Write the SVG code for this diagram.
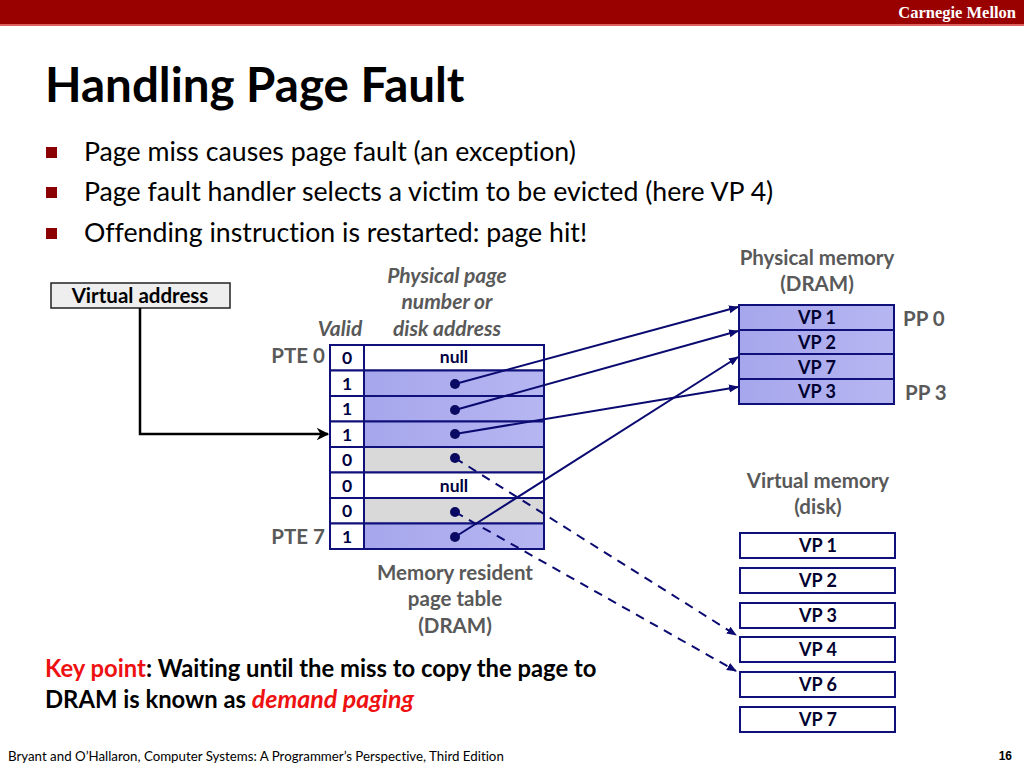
<svg xmlns="http://www.w3.org/2000/svg" width="1024" height="768" viewBox="0 0 1024 768">
<defs>
<style>
text,tspan{font-variant-ligatures:none;font-feature-settings:"liga" 0,"clig" 0,"dlig" 0}
.cal{font-family:Lato,"Liberation Sans",sans-serif}
.lbl{font-family:Lato,"Liberation Sans",sans-serif;font-weight:bold;fill:#595959;font-size:20.5px;text-anchor:middle}
.ilbl{font-family:Lato,"Liberation Sans",sans-serif;font-weight:bold;font-style:italic;fill:#595959;font-size:21px;text-anchor:middle}
.cell{font-family:Lato,"Liberation Sans",sans-serif;font-weight:bold;fill:#000040;font-size:17.5px;text-anchor:middle}
.vp{font-family:Lato,"Liberation Sans",sans-serif;font-weight:bold;fill:#000030;font-size:18px;text-anchor:middle}
.blue{fill:url(#bg);stroke:#10107a;stroke-width:2}
.grey{fill:#d9d9d9;stroke:#10107a;stroke-width:2}
.white{fill:#ffffff;stroke:#10107a;stroke-width:2}
.dot{fill:#0a0a60}
.solid{stroke:#0a0a70;stroke-width:2;fill:none;marker-end:url(#ah)}
.dash{stroke:#0a0a70;stroke-width:2;fill:none;stroke-dasharray:9 7;marker-end:url(#ah)}
</style>
<linearGradient id="bg" x1="0" y1="0" x2="1" y2="0">
<stop offset="0" stop-color="#a6a6ec"/>
<stop offset="1" stop-color="#b6b6f2"/>
</linearGradient>
<marker id="ah" viewBox="0 0 10 10" refX="9" refY="5" markerWidth="5" markerHeight="5" orient="auto" markerUnits="strokeWidth">
<path d="M0,1 L10,5 L0,9 Z" fill="#0a0a70"/>
</marker>
<marker id="ahb" viewBox="0 0 10 10" refX="9" refY="5" markerWidth="5" markerHeight="5" orient="auto" markerUnits="strokeWidth">
<path d="M0,0 L10,5 L0,10 L3,5 Z" fill="#000"/>
</marker>
</defs>
<rect width="1024" height="768" fill="#ffffff"/>
<g id="header">
<rect x="0" y="0" width="1024" height="24" fill="#990000"/>
<rect x="0" y="24" width="1024" height="2" fill="#e06060"/>
<text x="1016" y="18" font-family="Liberation Serif,serif" font-weight="bold" font-size="16.5" fill="#ffffff" text-anchor="end">Carnegie Mellon</text>
</g>
<g id="title">
<text x="45" y="102" class="cal" font-weight="bold" font-size="47.5" fill="#000">Handling Page Fault</text>
</g>
<g id="bullets">
<rect x="46" y="147" width="11" height="11" fill="#8b0000"/>
<rect x="46" y="187" width="11" height="11" fill="#8b0000"/>
<rect x="46" y="228" width="11" height="11" fill="#8b0000"/>
<text x="84" y="161" class="cal" font-size="26.7" fill="#000">Page miss causes page fault (an exception)</text>
<text x="84" y="201" class="cal" font-size="26.7" fill="#000">Page fault handler selects a victim to be evicted (here VP 4)</text>
<text x="84" y="242" class="cal" font-size="26.7" fill="#000">Offending instruction is restarted: page hit!</text>
</g>
<g id="virtual-address">
<rect x="51" y="283" width="179" height="25" fill="#eeeeee" stroke="#222" stroke-width="1.5"/>
<text x="140" y="303" class="cal" font-weight="bold" font-size="20.5" fill="#000" text-anchor="middle">Virtual address</text>
</g>
<g id="page-table">
<text x="447" y="283" class="ilbl">Physical page</text>
<text x="447" y="309" class="ilbl">number or</text>
<text x="447" y="336" class="ilbl">disk address</text>
<text x="340" y="336" class="ilbl">Valid</text>
<text x="325" y="363" class="lbl" style="text-anchor:end">PTE 0</text>
<text x="325" y="544" class="lbl" style="text-anchor:end">PTE 7</text>
<rect x="330" y="345" width="34" height="25.5" class="white"/><rect x="364" y="345" width="180" height="25.5" class="white"/>
<rect x="330" y="370.5" width="34" height="25.5" class="white"/><rect x="364" y="370.5" width="180" height="25.5" class="blue"/>
<rect x="330" y="396" width="34" height="25.5" class="white"/><rect x="364" y="396" width="180" height="25.5" class="blue"/>
<rect x="330" y="421.5" width="34" height="25.5" class="white"/><rect x="364" y="421.5" width="180" height="25.5" class="blue"/>
<rect x="330" y="447" width="34" height="25.5" class="white"/><rect x="364" y="447" width="180" height="25.5" class="grey"/>
<rect x="330" y="472.5" width="34" height="25.5" class="white"/><rect x="364" y="472.5" width="180" height="25.5" class="white"/>
<rect x="330" y="498" width="34" height="25.5" class="white"/><rect x="364" y="498" width="180" height="25.5" class="grey"/>
<rect x="330" y="523.5" width="34" height="25.5" class="white"/><rect x="364" y="523.5" width="180" height="25.5" class="blue"/>
<text x="347" y="364" class="cell">0</text>
<text x="347" y="390" class="cell">1</text>
<text x="347" y="415" class="cell">1</text>
<text x="347" y="441" class="cell">1</text>
<text x="347" y="466" class="cell">0</text>
<text x="347" y="492" class="cell">0</text>
<text x="347" y="517" class="cell">0</text>
<text x="347" y="543" class="cell">1</text>
<text x="454" y="363" class="cell">null</text>
<text x="454" y="492" class="cell">null</text>
<circle cx="455" cy="384" r="5" class="dot"/>
<circle cx="455" cy="410" r="5" class="dot"/>
<circle cx="455" cy="434" r="5" class="dot"/>
<circle cx="455" cy="458" r="5" class="dot"/>
<circle cx="455" cy="512" r="5" class="dot"/>
<circle cx="455" cy="537" r="5" class="dot"/>
<text x="455" y="580" class="lbl">Memory resident</text>
<text x="455" y="606" class="lbl">page table</text>
<text x="455" y="633" class="lbl">(DRAM)</text>
</g>
<g id="physical-memory">
<text x="817" y="265" class="lbl">Physical memory</text>
<text x="817" y="291" class="lbl">(DRAM)</text>
<rect x="739" y="305" width="155" height="25" class="blue"/>
<rect x="739" y="330" width="155" height="24" class="blue"/>
<rect x="739" y="354" width="155" height="25" class="blue"/>
<rect x="739" y="379" width="155" height="25" class="blue"/>
<text x="817" y="324" class="vp">VP 1</text>
<text x="817" y="349" class="vp">VP 2</text>
<text x="817" y="374" class="vp">VP 7</text>
<text x="817" y="398" class="vp">VP 3</text>
<text x="903" y="326" class="lbl" style="text-anchor:start">PP 0</text>
<text x="905" y="400" class="lbl" style="text-anchor:start">PP 3</text>
</g>
<g id="virtual-memory">
<text x="818" y="488" class="lbl">Virtual memory</text>
<text x="818" y="514" class="lbl">(disk)</text>
<rect x="740" y="533" width="155" height="25" class="white"/>
<rect x="740" y="568" width="155" height="25" class="white"/>
<rect x="740" y="603" width="155" height="25" class="white"/>
<rect x="740" y="637" width="155" height="25" class="white"/>
<rect x="740" y="672" width="155" height="25" class="white"/>
<rect x="740" y="707" width="155" height="25" class="white"/>
<text x="818" y="552" class="vp">VP 1</text>
<text x="818" y="587" class="vp">VP 2</text>
<text x="818" y="622" class="vp">VP 3</text>
<text x="818" y="656" class="vp">VP 4</text>
<text x="818" y="691" class="vp">VP 6</text>
<text x="818" y="726" class="vp">VP 7</text>
</g>
<g id="connectors">
<path d="M140,308 V434 H328" stroke="#000" stroke-width="2.5" fill="none" marker-end="url(#ahb)"/>
<line x1="455" y1="384" x2="738" y2="307" class="solid"/>
<line x1="455" y1="410" x2="738" y2="331" class="solid"/>
<line x1="455" y1="434" x2="738" y2="387" class="solid"/>
<line x1="455" y1="537" x2="738" y2="357" class="solid"/>
<line x1="455" y1="458" x2="736" y2="635" class="dash"/>
<line x1="455" y1="512" x2="736" y2="671" class="dash"/>
</g>
<g id="keypoint">
<text x="45" y="677" class="cal" font-weight="bold" font-size="23.8" fill="#000"><tspan fill="#ee1111">Key point</tspan>: Waiting until the miss to copy the page to</text>
<text x="45" y="708" class="cal" font-weight="bold" font-size="23.8" fill="#000">DRAM is known as <tspan fill="#ee1111" font-style="italic" font-size="25">demand paging</tspan></text>
</g>
<g id="footer">
<text x="8" y="761" class="cal" font-size="13.3" fill="#000">Bryant and O’Hallaron, Computer Systems: A Programmer’s Perspective, Third Edition</text>
<text x="1012" y="760" font-family="Liberation Sans,sans-serif" font-weight="bold" font-size="12" fill="#000" text-anchor="end">16</text>
</g>
</svg>
